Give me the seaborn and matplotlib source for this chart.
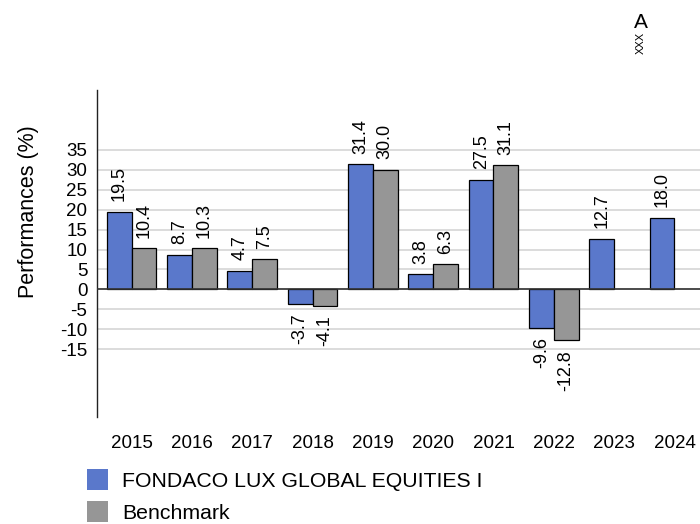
import numpy as np
import pandas as pd
import matplotlib
matplotlib.use("Agg")
import matplotlib.pyplot as plt
import seaborn as sns
from matplotlib.patches import Patch

# ===== data =====
years = ["2015", "2016", "2017", "2018", "2019", "2020", "2021", "2022", "2023", "2024"]
fund = [19.5, 8.7, 4.7, -3.7, 31.4, 3.8, 27.5, -9.6, 12.7, 18.0]
bench = [10.4, 10.3, 7.5, -4.1, 30.0, 6.3, 31.1, -12.8, np.nan, np.nan]
series_names = ["FONDACO LUX GLOBAL EQUITIES I", "Benchmark"]
colors = ["#5a78cb", "#969696"]
y_ticks = list(range(-15, 40, 5))

df = pd.DataFrame({
    "year": years * 2,
    "value": fund + bench,
    "serie": [series_names[0]] * len(years) + [series_names[1]] * len(years),
})

sns.set_style("white")
plt.rcParams["font.family"] = ["Liberation Sans", "DejaVu Sans"]
plt.rcParams["text.color"] = "black"
plt.rcParams["axes.labelcolor"] = "black"
plt.rcParams["xtick.labelcolor"] = "black"
plt.rcParams["ytick.labelcolor"] = "black"

fig = plt.figure(figsize=(7, 5.24), dpi=100)
ax = fig.add_axes([97 / 700, 107 / 524, 612 / 700, 327 / 524])

sns.barplot(data=df, x="year", y="value", hue="serie", palette=colors,
            width=0.82, edgecolor="black", linewidth=0.9, ax=ax, legend=False,
            saturation=1, zorder=3)

ax.set_xlim(-0.572, 9.572)
ax.set_ylim(-32, 50)
ax.set_yticks(y_ticks)
ax.set_yticklabels([str(t) for t in y_ticks], fontsize=13.5)
ax.tick_params(axis="y", length=5, color="#d9d9d9", width=1.2, pad=2, labelcolor="black")
ax.tick_params(axis="x", length=0, pad=13, labelsize=13.5, labelcolor="black")
ax.grid(axis="y", color="#d9d9d9", linewidth=1.3, zorder=0)
ax.set_axisbelow(True)
ax.axhline(0, color="#333333", linewidth=1.2, zorder=4)
for s in ["top", "right", "bottom"]:
    ax.spines[s].set_visible(False)
ax.spines["left"].set_color("#222222")
ax.spines["left"].set_linewidth(1)
ax.set_xlabel("")
ax.set_ylabel("Performances (%)", fontsize=15.5, labelpad=2, color="black")
ax.yaxis.set_label_coords(-0.095, 0.627)

# value labels
for cont in ax.containers:
    for rect in cont:
        h = rect.get_height()
        if np.isnan(h):
            continue
        x = rect.get_x() + rect.get_width() / 2
        if h >= 0:
            ax.annotate(f"{h:.1f}", (x, h), xytext=(0, 7.5), textcoords="offset points",
                        rotation=90, ha="center", va="bottom", fontsize=13, color="black")
        else:
            ax.annotate(f"{h:.1f}", (x, h), xytext=(0, -7), textcoords="offset points",
                        rotation=90, ha="center", va="top", fontsize=13, color="black")

handles = [Patch(facecolor=c, edgecolor="none") for c in colors]
fig.legend(handles, series_names, loc="upper left", bbox_to_anchor=(87 / 700, 1 - 469 / 524),
           frameon=False, fontsize=15.3, handlelength=1.0, handleheight=1.15,
           handletextpad=0.65, labelspacing=0.48, borderpad=0, borderaxespad=0,
           labelcolor="black")

fig.text(641 / 700, 1 - 22 / 524, "A", fontsize=15, ha="center", va="center", color="black")
fig.text(641 / 700, 1 - 43 / 524, "XXX", fontsize=8, rotation=90, ha="center", va="center",
         color="black")

fig.savefig("out.png", dpi=100)
